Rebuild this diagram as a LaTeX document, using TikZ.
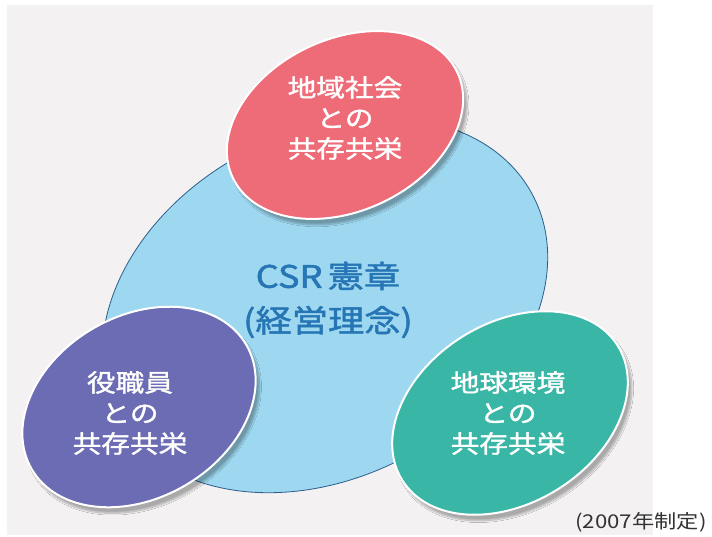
\documentclass[tikz,border=0pt]{standalone}
\usepackage{fontspec}
\newfontfamily\jp[FakeStretch=1.17]{Noto Sans CJK JP}
\newfontfamily\jpb[FakeStretch=1.17,FakeBold=1.5]{Noto Sans CJK JP}
\usetikzlibrary{shadows,shadows.blur}
\definecolor{panelbg}{HTML}{F3F1F1}
\definecolor{csrblue}{HTML}{9ED8F0}
\definecolor{csredge}{HTML}{2C5E8C}
\definecolor{csrtext}{HTML}{2675B4}
\definecolor{pinkfill}{HTML}{EE6B78}
\definecolor{purplefill}{HTML}{6C6CB4}
\definecolor{greenfill}{HTML}{3AB6A6}
\definecolor{notegray}{HTML}{333333}
\tikzset{
  petal/.style={draw=white, line width=2pt,
    blur shadow={shadow blur steps=10, shadow xshift=4pt, shadow yshift=-6pt, shadow opacity=30}},
  petaltext/.style={text=white, align=center, font=\jpb\fontsize{24.5}{30.5}\selectfont},
  centertext/.style={text=csrtext, font=\jpb\fontsize{31}{36}\selectfont},
}
\begin{document}
\begin{tikzpicture}[x=1pt,y=-1pt]
\useasboundingbox (0,0) rectangle (712,537);
\fill[white] (0,0) rectangle (712,537);
\fill[panelbg] (7,5) rectangle (653,535);
% central ellipse
\path[fill=csrblue, draw=csredge, line width=0.8pt, rotate around={28:(325,305)}]
  (325,305) ellipse [x radius=235pt, y radius=172pt];
% petals
\path[petal, fill=pinkfill, rotate around={25:(345,125)}]
  (345,125) ellipse [x radius=124pt, y radius=86pt];
\path[petal, fill=purplefill, rotate around={30:(139,407)}]
  (139,407) ellipse [x radius=124pt, y radius=91pt];
\path[petal, fill=greenfill, rotate around={32:(510,413)}]
  (510,413) ellipse [x radius=127pt, y radius=90pt];
% texts
\node[centertext] (csr) at (328,276) {CSR\,憲章};
\node[centertext] (rinen) at (328,322) {(経営理念)};
\node[petaltext] (local) at (345,118) {地域社会\\との\\共存共栄};
\node[petaltext] (staff) at (130,413) {役職員\\との\\共存共栄};
\node[petaltext] (earth) at (508,413) {地球環境\\との\\共存共栄};
\node[text=notegray, font=\jp\fontsize{19}{22}\selectfont] (note) at (641,522) {(2007年制定)};
\end{tikzpicture}
\end{document}
